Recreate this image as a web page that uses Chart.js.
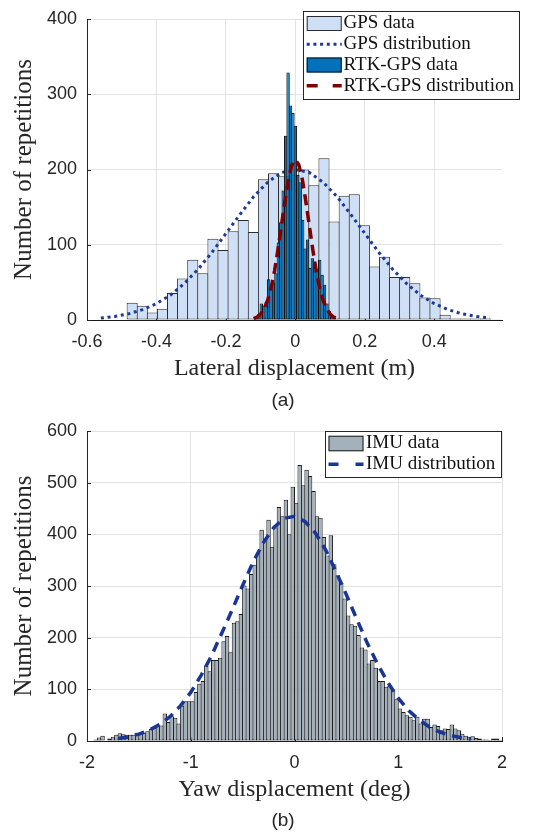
<!DOCTYPE html>
<html>
<head>
<meta charset="utf-8">
<script src="https://cdn.jsdelivr.net/npm/chart.js@4.4.1/dist/chart.umd.min.js"></script>
<style>
  body { margin: 0; background: #fff; }
  #wrap { position: relative; width: 534px; height: 835px; }
  canvas { position: absolute; left: 0; }
  .cap { position: absolute; width: 60px; line-height: 22px; text-align: center;
         font: 19px "Liberation Sans", Arial, sans-serif; color: #262626; }
</style>
</head>
<body>
<div id="wrap">
  <canvas id="lateral" width="534" height="410" style="top:0"></canvas>
  <canvas id="yaw" width="534" height="425" style="top:410px"></canvas>
  <div class="cap" style="left:253px; top:389px">(a)</div>
  <div class="cap" style="left:253px; top:809px">(b)</div>
</div>
<script>
// ---- (a) lateral displacement, GPS histogram (bin centres in m, counts)
const gpsBins = [-0.4699, -0.4408, -0.4118, -0.3827, -0.3536, -0.3246, -0.2955, -0.2664, -0.2373, -0.2083,
  -0.1792, -0.1501, -0.1211, -0.0920, -0.0629, -0.0338, -0.0048, 0.0243, 0.0534, 0.0824,
  0.1115, 0.1406, 0.1696, 0.1987, 0.2278, 0.2569, 0.2859, 0.3150, 0.3441, 0.3731,
  0.4022, 0.4313, 0.4603, 0.4894, 0.5185, 0.5476, 0.5766];
const gpsCounts = [23, 19, 10, 15, 36, 55, 80, 62, 108, 93,
  118, 133, 117, 187, 195, 191, 193, 200, 179, 215,
  131, 165, 167, 126, 71, 84, 57, 57, 49, 30,
  29, 7, 2, 2, 2, 2, 1];

// RTK-GPS histogram
const rtkBins = [-0.119, -0.112, -0.105, -0.098, -0.091, -0.084, -0.077, -0.070, -0.063, -0.056,
  -0.049, -0.042, -0.035, -0.028, -0.021, -0.014, -0.007, 0.000, 0.007, 0.014,
  0.021, 0.028, 0.035, 0.042, 0.049, 0.056, 0.063, 0.070, 0.077, 0.084,
  0.091, 0.098, 0.105, 0.112, 0.119];
const rtkCounts = [1, 3, 8, 22, 19, 24, 54, 45, 50, 62,
  103, 130, 172, 245, 329, 285, 275, 258, 193, 183,
  133, 95, 107, 69, 82, 66, 68, 80, 60, 47,
  22, 12, 6, 3, 1];

// fitted distributions
const gpsFitX = [-0.56, -0.52, -0.48, -0.44, -0.40, -0.36, -0.32, -0.28, -0.24, -0.20, -0.16, -0.12, -0.08, -0.04,
  0, 0.04, 0.08, 0.12, 0.16, 0.20, 0.24, 0.28, 0.32, 0.36, 0.40, 0.44, 0.48, 0.52, 0.56];
const gpsFitY = [2.6, 4.7, 8.2, 13.7, 21.8, 33, 48.5, 67.5, 90, 115, 140, 164, 183, 196,
  200, 196, 183, 164, 140, 115, 90, 67.5, 48.5, 33, 21.8, 13.7, 8.2, 4.7, 2.6];
const rtkFitX = [-0.12, -0.11, -0.10, -0.09, -0.08, -0.07, -0.06, -0.05, -0.04, -0.03, -0.02, -0.01,
  0, 0.01, 0.02, 0.03, 0.04, 0.05, 0.06, 0.07, 0.08, 0.09, 0.10, 0.11, 0.12];
const rtkFitY = [1.9, 4, 8, 14.8, 26, 42.5, 65, 94, 126, 158, 187, 206,
  213, 206, 187, 158, 126, 94, 65, 42.5, 26, 14.8, 8, 4, 1.9];

// ---- (b) yaw displacement, IMU histogram (bin centres in deg, counts)
const imuBins = [-1.9167, -1.8833, -1.8500, -1.8167, -1.7833, -1.7500, -1.7167, -1.6833, -1.6500, -1.6167,
  -1.5833, -1.5500, -1.5167, -1.4833, -1.4500, -1.4167, -1.3833, -1.3500, -1.3167, -1.2833,
  -1.2500, -1.2167, -1.1833, -1.1500, -1.1167, -1.0833, -1.0500, -1.0167, -0.9833, -0.9500,
  -0.9167, -0.8833, -0.8500, -0.8167, -0.7833, -0.7500, -0.7167, -0.6833, -0.6500, -0.6167,
  -0.5833, -0.5500, -0.5167, -0.4833, -0.4500, -0.4167, -0.3833, -0.3500, -0.3167, -0.2833,
  -0.2500, -0.2167, -0.1833, -0.1500, -0.1167, -0.0833, -0.0500, -0.0167, 0.0167, 0.0500,
  0.0833, 0.1167, 0.1500, 0.1833, 0.2167, 0.2500, 0.2833, 0.3167, 0.3500, 0.3833,
  0.4167, 0.4500, 0.4833, 0.5167, 0.5500, 0.5833, 0.6167, 0.6500, 0.6833, 0.7167,
  0.7500, 0.7833, 0.8167, 0.8500, 0.8833, 0.9167, 0.9500, 0.9833, 1.0167, 1.0500,
  1.0833, 1.1167, 1.1500, 1.1833, 1.2167, 1.2500, 1.2833, 1.3167, 1.3500, 1.3833,
  1.4167, 1.4500, 1.4833, 1.5167, 1.5500, 1.5833, 1.6167, 1.6500, 1.6833, 1.7167,
  1.7500, 1.7833, 1.8167, 1.8500, 1.8833, 1.9167, 1.9500, 1.9833];
const imuCounts = [3, 7, 10, 1, 5, 8, 12, 15, 13, 12,
  12, 12, 16, 13, 16, 19, 23, 25, 28, 30,
  53, 37, 48, 45, 34, 68, 77, 77, 77, 95,
  111, 116, 146, 135, 157, 157, 161, 193, 203, 172,
  229, 232, 246, 301, 295, 323, 341, 365, 409, 392,
  428, 376, 413, 453, 435, 467, 400, 492, 461, 534,
  495, 525, 513, 484, 435, 432, 395, 359, 398, 342,
  321, 306, 276, 243, 226, 223, 205, 181, 177, 150,
  157, 142, 116, 116, 105, 107, 98, 81, 63, 56,
  50, 47, 40, 47, 34, 43, 43, 27, 32, 29,
  21, 24, 23, 32, 24, 21, 14, 10, 8, 9,
  6, 5, 3, 3, 2, 5, 5, 2];
const imuFitX = [-1.7, -1.6, -1.5, -1.4, -1.3, -1.2, -1.1, -1.0, -0.9, -0.8, -0.7, -0.6, -0.5, -0.4, -0.3, -0.2, -0.1,
  0, 0.1, 0.2, 0.3, 0.4, 0.5, 0.6, 0.7, 0.8, 0.9, 1.0, 1.1, 1.2, 1.3, 1.4, 1.5, 1.6, 1.7];
const imuFitY = [4.8, 8.1, 13.4, 21, 32, 47, 68, 94, 127, 165, 209, 254, 301, 346, 384, 413, 431,
  435, 425, 403, 370, 328, 283, 236, 190, 149, 113, 83, 59, 41, 27, 17.4, 11, 6.7, 3.9];

// ticks
const latTicks = [-0.6, -0.4, -0.2, 0, 0.2, 0.4];
const latTickLabels = ['-0.6', '-0.4', '-0.2', '0', '0.2', '0.4'];
const latCountTicks = [0, 100, 200, 300, 400];
const yawTicks = [-2, -1, 0, 1, 2];
const yawTickLabels = ['-2', '-1', '0', '1', '2'];
const yawCountTicks = [0, 100, 200, 300, 400, 500, 600];

const pts = (xs, ys) => xs.map((x, i) => ({ x: x, y: ys[i] }));
const INK = '#262626';
const serif = '"Liberation Serif", "Times New Roman", serif';
const sans = '"Liberation Sans", Arial, sans-serif';

// MATLAB style inward tick marks
const innerTicks = {
  id: 'innerTicks',
  beforeDatasetsDraw(chart) {
    const { ctx, chartArea: a, scales } = chart;
    ctx.save();
    ctx.strokeStyle = INK;
    ctx.lineWidth = 1;
    ctx.beginPath();
    scales.x.ticks.forEach(t => {
      const px = Math.round(scales.x.getPixelForValue(t.value)) + 0.5;
      ctx.moveTo(px, a.bottom); ctx.lineTo(px, a.bottom - 4);
    });
    scales.y.ticks.forEach(t => {
      const py = Math.round(scales.y.getPixelForValue(t.value)) + 0.5;
      ctx.moveTo(a.left, py); ctx.lineTo(a.left + 4, py);
    });
    ctx.stroke();
    ctx.restore();
  }
};

// boxed legend drawn inside the axes
const boxLegend = {
  id: 'boxLegend',
  afterDraw(chart, args, o) {
    const ctx = chart.ctx;
    ctx.save();
    ctx.fillStyle = '#fff';
    ctx.fillRect(o.x, o.y, o.w, o.h);
    ctx.strokeStyle = INK;
    ctx.lineWidth = 1;
    ctx.strokeRect(o.x, o.y, o.w, o.h);
    ctx.font = '19px ' + serif;
    ctx.textBaseline = 'middle';
    o.items.forEach((it, i) => {
      const ds = chart.data.datasets[it.ds];
      const cy = o.rows[i];
      if (ds.type === 'line') {
        ctx.strokeStyle = ds.borderColor;
        ctx.lineWidth = ds.borderWidth;
        ctx.setLineDash(it.dash);
        ctx.beginPath();
        ctx.moveTo(o.patchX, cy); ctx.lineTo(o.patchX + o.patchW, cy);
        ctx.stroke();
        ctx.setLineDash([]);
      } else {
        ctx.fillStyle = ds.backgroundColor;
        ctx.fillRect(o.patchX, cy - o.patchH / 2, o.patchW, o.patchH);
        ctx.strokeStyle = ds.borderColor;
        ctx.lineWidth = 1;
        ctx.strokeRect(o.patchX + 0.5, cy - o.patchH / 2 + 0.5, o.patchW - 1, o.patchH - 1);
      }
      ctx.fillStyle = '#111';
      ctx.fillText(ds.label, o.textX, cy);
    });
    ctx.restore();
  }
};

function axisX(min, max, ticks, labels, title) {
  return {
    type: 'linear', min: min, max: max, offset: false,
    afterBuildTicks: s => { s.ticks = ticks.map(v => ({ value: v })); },
    afterFit: s => { s.height = 70; },
    grid: { color: '#e3e3e3', drawTicks: false, offset: false },
    border: { color: '#1a1a1a', width: 1 },
    ticks: { color: INK, padding: 13.5, maxRotation: 0, autoSkip: false,
      font: { family: sans, size: 18, lineHeight: 1 },
      callback: v => labels[ticks.indexOf(v)] },
    title: { display: true, text: title, color: INK, padding: { top: 0, bottom: 6.6 },
      font: { family: serif, size: 24 } }
  };
}
function axisY(max, ticks) {
  return {
    type: 'linear', min: 0, max: max,
    afterBuildTicks: s => { s.ticks = ticks.map(v => ({ value: v })); },
    afterFit: s => { s.width = 87; },
    grid: { color: '#e3e3e3', drawTicks: false },
    border: { color: INK, width: 1 },
    ticks: { color: INK, padding: 10, font: { family: sans, size: 18, lineHeight: 1 } },
    title: { display: true, text: 'Number of repetitions', color: INK, padding: { top: 9, bottom: 0 },
      font: { family: serif, size: 25 } }
  };
}

const histStyle = { borderWidth: 1, borderSkipped: false, inflateAmount: 0, grouped: false, categoryPercentage: 1 };

new Chart(document.getElementById('lateral'), {
  type: 'bar',
  data: {
    datasets: [
      Object.assign({ label: 'GPS data', data: pts(gpsBins, gpsCounts), xAxisID: 'x', order: 4,
        backgroundColor: '#cfe0f6', borderColor: '#2b2b2b', barPercentage: 1.1 }, histStyle),
      { type: 'line', label: 'GPS distribution', data: pts(gpsFitX, gpsFitY), xAxisID: 'x', order: 3,
        borderColor: '#1f3a93', borderWidth: 3, borderDash: [3, 3.7], pointRadius: 0, tension: 0 },
      Object.assign({ label: 'RTK-GPS data', data: pts(rtkBins, rtkCounts), xAxisID: 'x2', order: 2,
        backgroundColor: '#0072bd', borderColor: '#0d0d0d', barPercentage: 1.4 }, histStyle),
      { type: 'line', label: 'RTK-GPS distribution', data: pts(rtkFitX, rtkFitY), xAxisID: 'x', order: 1,
        borderColor: '#7f0000', borderWidth: 3.5, borderDash: [11, 6], pointRadius: 0, tension: 0 }
    ]
  },
  options: {
    responsive: false, animation: false,
    layout: { padding: { left: 0, right: 32, top: 10, bottom: 20 } },
    scales: {
      x: axisX(-0.6, 0.595, latTicks, latTickLabels, 'Lateral displacement (m)'),
      x2: { type: 'linear', min: -0.6, max: 0.595, offset: false, display: false },
      y: axisY(400, latCountTicks)
    },
    plugins: {
      legend: { display: false }, tooltip: { enabled: false },
      boxLegend: { x: 303.5, y: 11.5, w: 216, h: 88, rows: [23.5, 44.3, 65, 85.7],
        patchX: 306.7, patchW: 35, patchH: 15, textX: 343.5,
        items: [{ ds: 0 }, { ds: 1, dash: [3, 3.7] }, { ds: 2 }, { ds: 3, dash: [11, 15] }] }
    }
  },
  plugins: [innerTicks, boxLegend]
});

new Chart(document.getElementById('yaw'), {
  type: 'bar',
  data: {
    datasets: [
      Object.assign({ label: 'IMU data', data: pts(imuBins, imuCounts), order: 2,
        backgroundColor: '#a4b1ba', borderColor: '#1c1c1c', barPercentage: 1.29 }, histStyle),
      { type: 'line', label: 'IMU distribution', data: pts(imuFitX, imuFitY), order: 1,
        borderColor: '#1a3594', borderWidth: 3.5, borderDash: [10, 7], pointRadius: 0, tension: 0 }
    ]
  },
  options: {
    responsive: false, animation: false,
    layout: { padding: { left: 0, right: 32, top: 21, bottom: 24 } },
    scales: {
      x: axisX(-2, 2, yawTicks, yawTickLabels, 'Yaw displacement (deg)'),
      y: axisY(600, yawCountTicks)
    },
    plugins: {
      legend: { display: false }, tooltip: { enabled: false },
      boxLegend: { x: 325.5, y: 21.5, w: 176, h: 46, rows: [33.5, 54.3],
        patchX: 328.5, patchW: 35, patchH: 15.5, textX: 366,
        items: [{ ds: 0 }, { ds: 1, dash: [10, 17] }] }
    }
  },
  plugins: [innerTicks, boxLegend]
});
</script>
</body>
</html>
